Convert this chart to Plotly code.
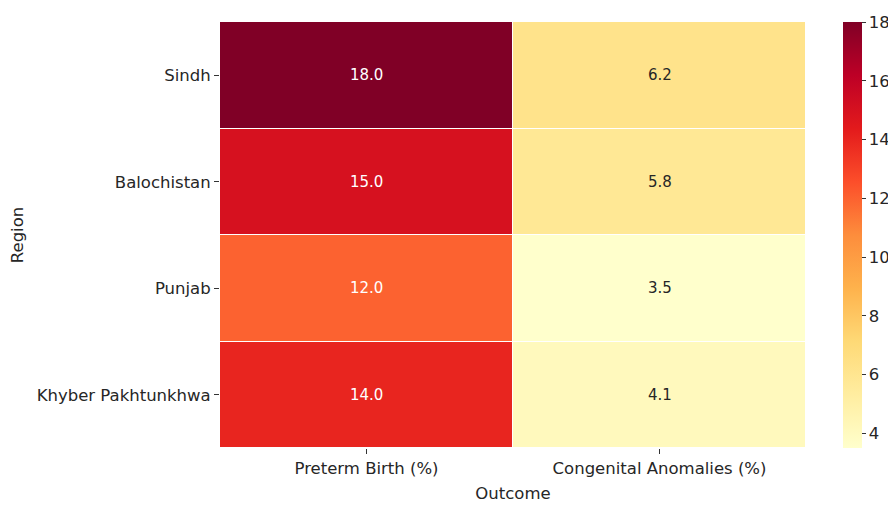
import plotly.graph_objects as go

regions = ["Sindh", "Balochistan", "Punjab", "Khyber Pakhtunkhwa"]
outcomes = ["Preterm Birth (%)", "Congenital Anomalies (%)"]
preterm = [18.0, 15.0, 12.0, 14.0]
congenital = [6.2, 5.8, 3.5, 4.1]

z = [[p, c] for p, c in zip(preterm, congenital)]

ylorrd = [
    [0.0, "#ffffcc"], [0.125, "#ffeda0"], [0.25, "#fed976"], [0.375, "#feb24c"],
    [0.5, "#fd8d3c"], [0.625, "#fc4e2a"], [0.75, "#e31a1c"], [0.875, "#bd0026"],
    [1.0, "#800026"],
]
zmin = min(min(preterm), min(congenital))
zmax = max(max(preterm), max(congenital))

font = "DejaVu Sans"
fs = 16.5
fig = go.Figure()
fig.add_trace(go.Heatmap(
    z=z, x=outcomes, y=regions, colorscale=ylorrd, zmin=zmin, zmax=zmax,
    xgap=1, ygap=1, hoverongaps=False,
    colorbar=dict(
        x=1.063, xanchor="left", y=0.5, yanchor="middle", len=1, lenmode="fraction",
        thickness=19, outlinewidth=0, ticks="outside", ticklen=4, tickwidth=1,
        xpad=0, ypad=0,
        tickcolor="#333", tickvals=[4, 6, 8, 10, 12, 14, 16, 18],
        tickfont=dict(family=font, size=fs, color="#262626"),
    ),
))

for i, r in enumerate(regions):
    for j, o in enumerate(outcomes):
        v = z[i][j]
        frac = (v - zmin) / (zmax - zmin)
        fig.add_annotation(x=o, y=r, text=f"{v:.1f}", showarrow=False,
                           font=dict(family=font, size=15,
                                     color="white" if frac > 0.5 else "#262626"))

fig.update_layout(
    width=896, height=505,
    margin=dict(l=212, r=98, t=14, b=65, autoexpand=False),
    plot_bgcolor="white", paper_bgcolor="white",
    font=dict(family=font, size=fs, color="#262626"),
    xaxis=dict(title=dict(text="Outcome", standoff=10, font=dict(size=fs)),
               ticks="outside", ticklen=5, tickcolor="#333", showgrid=False,
               zeroline=False, tickfont=dict(size=fs)),
    yaxis=dict(title=dict(text="Region", standoff=10, font=dict(size=fs)),
               autorange="reversed", ticks="outside", ticklen=5, tickcolor="#333",
               showgrid=False, zeroline=False, tickfont=dict(size=fs)),
)

fig.write_html("out.html")
